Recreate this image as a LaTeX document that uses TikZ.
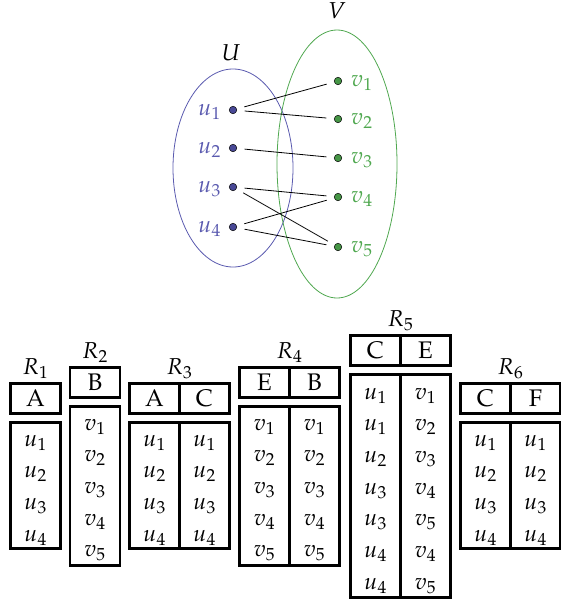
\documentclass[tikz,border=0pt]{standalone}
\usepackage[T1]{fontenc}
\usepackage{mathpazo}
\usepackage{graphicx}
\usetikzlibrary{shapes.geometric}
\definecolor{ublue}{RGB}{90,90,175}
\definecolor{ufill}{RGB}{72,72,150}
\definecolor{vgreen}{RGB}{80,168,80}
\definecolor{vfill}{RGB}{70,150,70}
\newcommand{\mfnt}{\fontsize{23}{26}\selectfont}
\newcommand{\hd}[1]{\scalebox{2.4}{\fontsize{10}{12}\selectfont #1}}
\begin{document}
\begin{tikzpicture}[x=1pt,y=-1pt,
  setline/.style={ellipse, inner sep=0pt, line width=0.8pt},
  dotu/.style={circle, draw=black, line width=0.5pt, fill=ufill, minimum size=7.5pt, inner sep=0pt, outer sep=8pt},
  dotv/.style={circle, draw=black, line width=0.5pt, fill=vfill, minimum size=7.5pt, inner sep=0pt, outer sep=8pt},
  edge/.style={draw=black, line width=0.8pt},
  ulab/.style={anchor=base east, text=ublue, inner sep=0pt, font=\mfnt},
  vlab/.style={anchor=base west, text=vgreen, inner sep=0pt, font=\mfnt},
  hcell/.style={draw, line width=2.6pt, inner sep=0pt, minimum width=50pt, minimum height=30.4pt},
  bcell/.style={draw, line width=2.6pt, inner sep=0pt, minimum width=50pt},
  rowtxt/.style={anchor=base, inner sep=0pt, font=\mfnt},
  tlab/.style={anchor=base, inner sep=0pt, font=\mfnt}]
\useasboundingbox (0,0) rectangle (560,600);

% ---------- bipartite graph ----------
\node[setline, draw=ublue, minimum width=120pt, minimum height=198pt] (Uset) at (233,168) {};
\node[setline, draw=vgreen, minimum width=120pt, minimum height=268pt] (Vset) at (337,164) {};
\node[tlab] (Ulab) at (231,60) {$U$};
\node[tlab] (Vlab) at (337,18) {$V$};

\node[dotu] (u1) at (233,110) {};
\node[dotu] (u2) at (233,148) {};
\node[dotu] (u3) at (233,187) {};
\node[dotu] (u4) at (233,227) {};
\node[dotv] (v1) at (338,81) {};
\node[dotv] (v2) at (338,119) {};
\node[dotv] (v3) at (338,158) {};
\node[dotv] (v4) at (338,197) {};
\node[dotv] (v5) at (338,247) {};

\node[ulab] (lu1) at (221,115.5) {$u_1$};
\node[ulab] (lu2) at (221,153.5) {$u_2$};
\node[ulab] (lu3) at (221,192.5) {$u_3$};
\node[ulab] (lu4) at (221,232.5) {$u_4$};
\node[vlab] (lv1) at (351,86.5) {$v_1$};
\node[vlab] (lv2) at (351,124.5) {$v_2$};
\node[vlab] (lv3) at (351,163.5) {$v_3$};
\node[vlab] (lv4) at (351,202.5) {$v_4$};
\node[vlab] (lv5) at (351,252.5) {$v_5$};

\draw[edge] (u1) -- (v1);
\draw[edge] (u1) -- (v2);
\draw[edge] (u2) -- (v3);
\draw[edge] (u3) -- (v4);
\draw[edge] (u3) -- (v5);
\draw[edge] (u4) -- (v4);
\draw[edge] (u4) -- (v5);

% ---------- R1 ----------
\node[tlab] (R1lab) at (35.5,374) {$R_1$};
\node[hcell] (R1hA) at (35.5,398.5) {\hd{A}};
\node[bcell, minimum height=126.4pt] (R1b) at (35.5,485.5) {};
\foreach \t [count=\i] in {u_1,u_2,u_3,u_4}
  \node[rowtxt] (R1r\i) at (35.5,414.3+31.7*\i) {$\t$};

% ---------- R2 ----------
\node[tlab] (R2lab) at (95,358) {$R_2$};
\node[hcell] (R2hB) at (95,382.5) {\hd{B}};
\node[bcell, minimum height=159.4pt] (R2b) at (95,486) {};
\foreach \t [count=\i] in {v_1,v_2,v_3,v_4,v_5}
  \node[rowtxt] (R2r\i) at (95,398.3+31.7*\i) {$\t$};

% ---------- R3 ----------
\node[tlab] (R3lab) at (179.5,374) {$R_3$};
\node[hcell] (R3hA) at (154.5,398.5) {\hd{A}};
\node[hcell] (R3hC) at (204.5,398.5) {\hd{C}};
\node[bcell, minimum height=126.4pt] (R3b1) at (154.5,485.5) {};
\node[bcell, minimum height=126.4pt] (R3b2) at (204.5,485.5) {};
\foreach \t [count=\i] in {u_1,u_2,u_3,u_4}{
  \node[rowtxt] (R3a\i) at (154.5,414.3+31.7*\i) {$\t$};
  \node[rowtxt] (R3c\i) at (204.5,414.3+31.7*\i) {$\t$};
}

% ---------- R4 ----------
\node[tlab] (R4lab) at (289.5,358) {$R_4$};
\node[hcell] (R4hE) at (264.5,382.5) {\hd{E}};
\node[hcell] (R4hB) at (314.5,382.5) {\hd{B}};
\node[bcell, minimum height=159.4pt] (R4b1) at (264.5,486) {};
\node[bcell, minimum height=159.4pt] (R4b2) at (314.5,486) {};
\foreach \t [count=\i] in {v_1,v_2,v_3,v_4,v_5}{
  \node[rowtxt] (R4e\i) at (264.5,398.3+31.7*\i) {$\t$};
  \node[rowtxt] (R4f\i) at (314.5,398.3+31.7*\i) {$\t$};
}

% ---------- R5 ----------
\node[tlab] (R5lab) at (400.5,326) {$R_5$};
\node[hcell] (R5hC) at (375.5,350.5) {\hd{C}};
\node[hcell] (R5hE) at (425.5,350.5) {\hd{E}};
\node[bcell, minimum height=223.4pt] (R5b1) at (375.5,486) {};
\node[bcell, minimum height=223.4pt] (R5b2) at (425.5,486) {};
\foreach \a/\b [count=\i] in {u_1/v_1,u_1/v_2,u_2/v_3,u_3/v_4,u_3/v_5,u_4/v_4,u_4/v_5}{
  \node[rowtxt] (R5c\i) at (375.5,367.3+31.7*\i) {$\a$};
  \node[rowtxt] (R5e\i) at (425.5,367.3+31.7*\i) {$\b$};
}

% ---------- R6 ----------
\node[tlab] (R6lab) at (510.5,374) {$R_6$};
\node[hcell] (R6hC) at (485.5,398.5) {\hd{C}};
\node[hcell] (R6hF) at (535.5,398.5) {\hd{F}};
\node[bcell, minimum height=126.4pt] (R6b1) at (485.5,485.5) {};
\node[bcell, minimum height=126.4pt] (R6b2) at (535.5,485.5) {};
\foreach \t [count=\i] in {u_1,u_2,u_3,u_4}{
  \node[rowtxt] (R6c\i) at (485.5,414.3+31.7*\i) {$\t$};
  \node[rowtxt] (R6f\i) at (535.5,414.3+31.7*\i) {$\t$};
}
\end{tikzpicture}
\end{document}
